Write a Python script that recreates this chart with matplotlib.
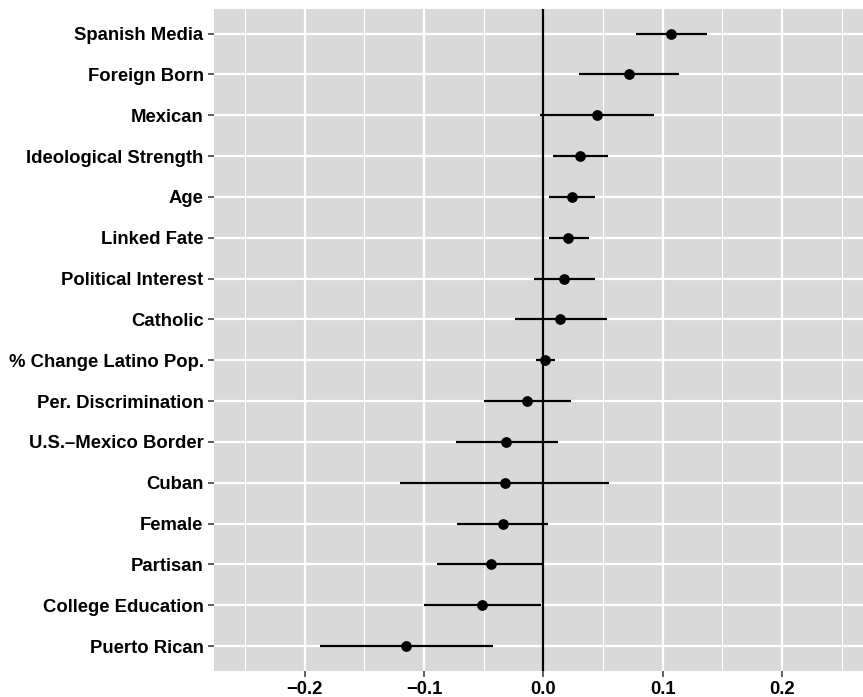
import numpy as np
import matplotlib
matplotlib.use('Agg')
import matplotlib.pyplot as plt

plt.rcParams['font.family'] = ['Liberation Sans', 'DejaVu Sans']

# top to bottom as in the picture
labels = ['Spanish Media', 'Foreign Born', 'Mexican', 'Ideological Strength', 'Age',
          'Linked Fate', 'Political Interest', 'Catholic', '% Change Latino Pop.',
          'Per. Discrimination', 'U.S.\u2013Mexico Border', 'Cuban', 'Female',
          'Partisan', 'College Education', 'Puerto Rican']
est = [0.107, 0.072, 0.045, 0.031, 0.024, 0.021, 0.017, 0.014, 0.0015,
       -0.014, -0.031, -0.032, -0.034, -0.044, -0.051, -0.115]
lower = [0.078, 0.030, -0.003, 0.008, 0.005, 0.005, -0.008, -0.024, -0.006,
         -0.050, -0.073, -0.120, -0.072, -0.089, -0.100, -0.187]
upper = [0.137, 0.114, 0.093, 0.054, 0.043, 0.038, 0.043, 0.053, 0.010,
         0.023, 0.012, 0.055, 0.004, 0.001, -0.002, -0.042]

n = len(labels)
ypos = np.arange(n, 0, -1)

fig = plt.figure(figsize=(8.63, 6.97), dpi=100)
ax = fig.add_axes([0.248, 0.038, 0.752, 0.949])
ax.set_facecolor('#D9D9D9')

ax.set_xlim(-0.276, 0.268)
ax.set_ylim(0.4, n + 0.6)
ax.set_xticks([-0.2, -0.1, 0.0, 0.1, 0.2])
ax.set_xticklabels(['\u22120.2', '\u22120.1', '0.0', '0.1', '0.2'])
ax.set_xticks([-0.25, -0.15, -0.05, 0.05, 0.15, 0.25], minor=True)
ax.set_yticks(ypos)
ax.set_yticklabels(labels)

ax.grid(True, which='major', color='white', linewidth=1.6)
ax.grid(True, which='minor', axis='x', color='white', linewidth=0.8)
ax.set_axisbelow(True)
for s in ax.spines.values():
    s.set_visible(False)

ax.tick_params(axis='both', which='major', length=4, width=1.1, color='#333333',
               labelsize=13.3, labelcolor='black')
ax.tick_params(axis='x', which='minor', length=0)
for t in ax.get_xticklabels() + ax.get_yticklabels():
    t.set_fontweight('bold')

ax.axvline(0, color='black', linewidth=1.6, zorder=2)
ax.hlines(ypos, lower, upper, color='black', linewidth=1.6, zorder=3)
ax.scatter(est, ypos, s=45, color='black', zorder=4)

plt.savefig('out.png', dpi=100)
